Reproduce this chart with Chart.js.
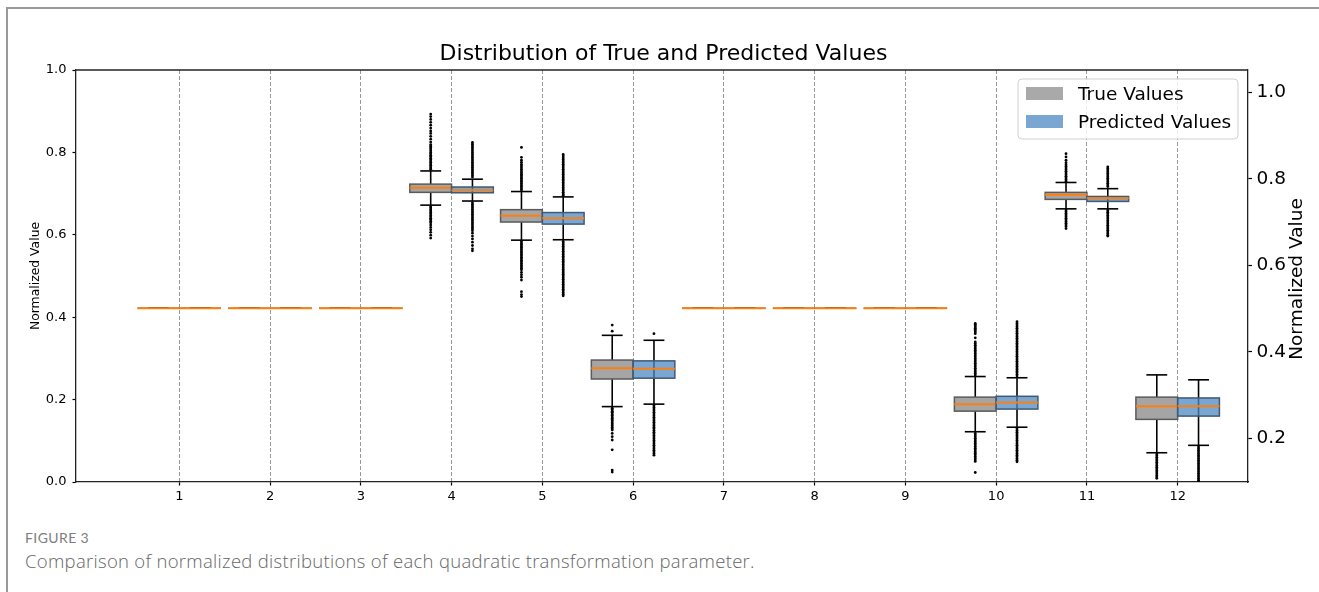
<!DOCTYPE html>
<html>
<head>
<meta charset="utf-8">
<script src="https://cdn.jsdelivr.net/npm/chart.js@4.4.1/dist/chart.umd.min.js"></script>
<style>
  html, body { margin:0; padding:0; background:#fff; width:1319px; height:592px; overflow:hidden; }
  #frame { position:absolute; left:6px; top:7px; width:1400px; height:700px; border-left:2px solid #9a9a9a; border-top:2px solid #9a9a9a; }
  #wrap { position:absolute; left:0; top:0; width:1319px; height:520px; }
  #fig { position:absolute; left:25px; top:529px; font-family:Lato, "Open Sans", sans-serif; font-size:14px; letter-spacing:0.4px; color:#7d7d7d; }
  #cap { position:absolute; left:25px; top:548px; font-family:"Open Sans", Lato, sans-serif; font-size:18.5px; letter-spacing:0.3px; font-weight:300; color:#666; }
</style>
</head>
<body>
<div id="frame"></div>
<div id="wrap"><canvas id="c" width="1319" height="520"></canvas></div>
<div id="fig">FIGURE 3</div>
<div id="cap">Comparison of normalized distributions of each quadratic transformation parameter.</div>
<script>
// ---------------- data ----------------
const CATEGORIES = [1, 2, 3, 4, 5, 6, 7, 8, 9, 10, 11, 12];
const X_TICK_LABELS = ['1', '2', '3', '4', '5', '6', '7', '8', '9', '10', '11', '12'];
const Y_TICKS = [0.0, 0.2, 0.4, 0.6, 0.8, 1.0];
const Y2_TICKS = [0.2, 0.4, 0.6, 0.8, 1.0];
const SERIES = ['True Values', 'Predicted Values'];
const CHART_TITLE = 'Distribution of True and Predicted Values';
const Y_TITLE = 'Normalized Value';

const TRUE_Q1  = [0.422, 0.422, 0.422, 0.703, 0.631, 0.250, 0.422, 0.422, 0.422, 0.172, 0.686, 0.152];
const TRUE_MED = [0.422, 0.422, 0.422, 0.714, 0.646, 0.276, 0.422, 0.422, 0.422, 0.189, 0.697, 0.184];
const TRUE_Q3  = [0.422, 0.422, 0.422, 0.723, 0.661, 0.296, 0.422, 0.422, 0.422, 0.206, 0.703, 0.206];
const TRUE_LO  = [0.422, 0.422, 0.422, 0.672, 0.587, 0.183, 0.422, 0.422, 0.422, 0.122, 0.663, 0.071];
const TRUE_HI  = [0.422, 0.422, 0.422, 0.755, 0.705, 0.356, 0.422, 0.422, 0.422, 0.256, 0.727, 0.260];

const PRED_Q1  = [0.422, 0.422, 0.422, 0.702, 0.626, 0.252, 0.422, 0.422, 0.422, 0.177, 0.681, 0.160];
const PRED_MED = [0.422, 0.422, 0.422, 0.708, 0.640, 0.275, 0.422, 0.422, 0.422, 0.193, 0.689, 0.184];
const PRED_Q3  = [0.422, 0.422, 0.422, 0.716, 0.654, 0.294, 0.422, 0.422, 0.422, 0.208, 0.693, 0.204];
const PRED_LO  = [0.422, 0.422, 0.422, 0.682, 0.588, 0.189, 0.422, 0.422, 0.422, 0.133, 0.663, 0.089];
const PRED_HI  = [0.422, 0.422, 0.422, 0.735, 0.692, 0.344, 0.422, 0.422, 0.422, 0.253, 0.712, 0.248];

const TRUE_FLIERS = [
  [], [], [],
  [0.893, 0.887, 0.880, 0.873, 0.866, 0.859, 0.852, 0.846, 0.839, 0.832, 0.825, 0.819, 0.815, 0.811, 0.808, 0.804, 0.800, 0.797, 0.793, 0.790, 0.786, 0.783, 0.779, 0.776, 0.772, 0.769, 0.765, 0.762, 0.759,
   0.668, 0.665, 0.661, 0.658, 0.654, 0.651, 0.647, 0.644, 0.640, 0.637, 0.633, 0.629, 0.624, 0.618, 0.612, 0.606, 0.599, 0.592],
  [0.812, 0.788, 0.781, 0.776, 0.771, 0.767, 0.763, 0.759, 0.755, 0.751, 0.747, 0.744, 0.740, 0.737, 0.733, 0.730, 0.726, 0.723, 0.719, 0.716, 0.712, 0.709,
   0.584, 0.580, 0.577, 0.573, 0.570, 0.566, 0.563, 0.559, 0.556, 0.552, 0.549, 0.545, 0.542, 0.538, 0.535, 0.531, 0.527, 0.523, 0.519, 0.515, 0.509, 0.503, 0.497, 0.490, 0.462, 0.455, 0.450],
  [0.381, 0.366,
   0.179, 0.176, 0.172, 0.169, 0.165, 0.162, 0.158, 0.155, 0.151, 0.148, 0.144, 0.141, 0.137, 0.133, 0.129, 0.126, 0.118, 0.110, 0.102, 0.078, 0.029, 0.024],
  [], [], [],
  [0.385, 0.382, 0.379, 0.376, 0.373, 0.370, 0.367, 0.364, 0.360, 0.350, 0.340, 0.336, 0.332, 0.328, 0.324, 0.320, 0.316, 0.312, 0.308, 0.304, 0.300, 0.296, 0.292, 0.288, 0.284, 0.280, 0.276, 0.272, 0.268, 0.264, 0.260,
   0.118, 0.114, 0.110, 0.106, 0.102, 0.098, 0.094, 0.090, 0.086, 0.082, 0.078, 0.074, 0.070, 0.066, 0.062, 0.058, 0.054, 0.050, 0.023],
  [0.797, 0.789, 0.781, 0.775, 0.770, 0.766, 0.762, 0.758, 0.754, 0.750, 0.746, 0.742, 0.738, 0.734, 0.730,
   0.660, 0.656, 0.652, 0.648, 0.644, 0.640, 0.636, 0.632, 0.628, 0.624, 0.620, 0.615],
  [0.068, 0.064, 0.060, 0.056, 0.052, 0.048, 0.044, 0.040, 0.036, 0.032, 0.028, 0.024, 0.020, 0.016, 0.012, 0.009]
];

const PRED_FLIERS = [
  [], [], [],
  [0.824, 0.820, 0.816, 0.812, 0.808, 0.804, 0.800, 0.796, 0.792, 0.788, 0.784, 0.780, 0.776, 0.772, 0.768, 0.764, 0.760, 0.756, 0.752, 0.748, 0.744, 0.740,
   0.678, 0.674, 0.670, 0.666, 0.662, 0.658, 0.654, 0.650, 0.646, 0.642, 0.638, 0.634, 0.630, 0.626, 0.622, 0.618, 0.614, 0.610, 0.604, 0.597, 0.590, 0.582, 0.574, 0.566, 0.561],
  [0.795, 0.791, 0.787, 0.783, 0.779, 0.775, 0.771, 0.767, 0.763, 0.759, 0.755, 0.751, 0.747, 0.743, 0.739, 0.735, 0.731, 0.727, 0.723, 0.719, 0.715, 0.711, 0.707, 0.703, 0.699, 0.696,
   0.584, 0.580, 0.576, 0.572, 0.568, 0.564, 0.560, 0.556, 0.552, 0.548, 0.544, 0.540, 0.536, 0.532, 0.528, 0.524, 0.520, 0.516, 0.512, 0.508, 0.504, 0.500, 0.496, 0.492, 0.488, 0.484, 0.480, 0.476, 0.472, 0.468, 0.464, 0.460, 0.456, 0.452],
  [0.360,
   0.185, 0.181, 0.177, 0.173, 0.169, 0.165, 0.161, 0.157, 0.153, 0.149, 0.145, 0.141, 0.137, 0.133, 0.129, 0.125, 0.121, 0.117, 0.113, 0.109, 0.105, 0.101, 0.097, 0.093, 0.089, 0.085, 0.081, 0.077, 0.073, 0.069, 0.065],
  [], [], [],
  [0.389, 0.385, 0.381, 0.377, 0.373, 0.369, 0.365, 0.361, 0.357, 0.353, 0.349, 0.345, 0.341, 0.337, 0.333, 0.329, 0.325, 0.321, 0.317, 0.313, 0.309, 0.305, 0.301, 0.297, 0.293, 0.289, 0.285, 0.281, 0.277, 0.273, 0.269, 0.265, 0.261, 0.257,
   0.129, 0.125, 0.121, 0.117, 0.113, 0.109, 0.105, 0.101, 0.097, 0.093, 0.089, 0.085, 0.081, 0.077, 0.073, 0.069, 0.065, 0.061, 0.057, 0.053, 0.049],
  [0.765, 0.761, 0.757, 0.753, 0.749, 0.745, 0.741, 0.737, 0.733, 0.729, 0.725, 0.721, 0.717,
   0.659, 0.655, 0.651, 0.647, 0.643, 0.639, 0.635, 0.631, 0.627, 0.623, 0.619, 0.615, 0.611, 0.607, 0.603, 0.599, 0.597],
  [0.085, 0.081, 0.077, 0.073, 0.069, 0.065, 0.061, 0.057, 0.053, 0.049, 0.045, 0.041, 0.037, 0.033, 0.029, 0.025, 0.021, 0.017, 0.013, 0.009, 0.005, 0.002]
];

// ---------------- layout / style constants ----------------
const BOX_OFFSET = 0.23;
const BOX_WIDTH = 0.46;
const CAP_WIDTH = 0.23;
const X_MIN = -0.138, X_MAX = 12.775;
const Y2_MIN = 0.099, Y2_MAX = 1.0516;
const STYLES = [
  { fill: '#a5a5a5', edge: '#5a5a5a', legend: '#a9a9a9', throughLine: false },
  { fill: 'rgba(78,136,195,0.75)', edge: '#3f5a74', legend: '#7aa6d2', throughLine: true }
];
const FONT = 'DejaVu Sans';
const SIDE_FONT = 18.5;

function buildBoxes(q1, med, q3, lo, hi, shift) {
  return CATEGORIES.map((c, i) => ({ x: c + shift, q1: q1[i], med: med[i], q3: q3[i], lo: lo[i], hi: hi[i] }));
}
function buildFliers(lists, shift) {
  const pts = [];
  lists.forEach((vals, i) => vals.forEach(v => pts.push({ x: CATEGORIES[i] + shift, y: v })));
  return pts;
}
const BOX_SETS = [
  buildBoxes(TRUE_Q1, TRUE_MED, TRUE_Q3, TRUE_LO, TRUE_HI, -BOX_OFFSET),
  buildBoxes(PRED_Q1, PRED_MED, PRED_Q3, PRED_LO, PRED_HI, BOX_OFFSET)
];

function seg(ctx, x1, y1, x2, y2) { ctx.beginPath(); ctx.moveTo(x1, y1); ctx.lineTo(x2, y2); ctx.stroke(); }

const boxPlugin = {
  id: 'boxplot',
  beforeDatasetsDraw(chart) {
    const { ctx, chartArea: ca, scales: { x, y } } = chart;
    ctx.save();
    ctx.beginPath(); ctx.rect(ca.left, ca.top, ca.right - ca.left, ca.bottom - ca.top); ctx.clip();
    BOX_SETS.forEach((boxes, si) => {
      const st = STYLES[si];
      boxes.forEach(b => {
        const xc = x.getPixelForValue(b.x);
        const xl = x.getPixelForValue(b.x - BOX_WIDTH / 2), xr = x.getPixelForValue(b.x + BOX_WIDTH / 2);
        const cl = x.getPixelForValue(b.x - CAP_WIDTH / 2), cr = x.getPixelForValue(b.x + CAP_WIDTH / 2);
        const yq1 = y.getPixelForValue(b.q1), yq3 = y.getPixelForValue(b.q3), ym = y.getPixelForValue(b.med);
        const ylo = y.getPixelForValue(b.lo), yhi = y.getPixelForValue(b.hi);
        ctx.lineCap = 'butt';
        ctx.strokeStyle = '#000'; ctx.lineWidth = 1.6;
        if (st.throughLine) { seg(ctx, xc, yhi, xc, ylo); }
        else { seg(ctx, xc, yq3, xc, yhi); seg(ctx, xc, yq1, xc, ylo); }
        seg(ctx, cl, yhi, cr, yhi); seg(ctx, cl, ylo, cr, ylo);
        ctx.fillStyle = st.fill;
        ctx.fillRect(xl, yq3, xr - xl, yq1 - yq3);
        ctx.strokeStyle = st.edge; ctx.lineWidth = 1.5;
        ctx.strokeRect(xl, yq3, xr - xl, yq1 - yq3);
        ctx.strokeStyle = '#ff7f0e'; ctx.lineWidth = 2;
        seg(ctx, xl, ym, xr, ym);
      });
    });
    ctx.restore();
  },
  afterDatasetsDraw(chart) {
    const { ctx, chartArea: ca } = chart;
    ctx.save();
    // top spine
    ctx.strokeStyle = '#222'; ctx.lineWidth = 1.3;
    seg(ctx, ca.left, ca.top, ca.right, ca.top);
    // legend
    const lw = 220, lh = 60, lx = ca.right - 10 - lw, ly = ca.top + 9;
    ctx.beginPath();
    if (ctx.roundRect) ctx.roundRect(lx, ly, lw, lh, 4); else ctx.rect(lx, ly, lw, lh);
    ctx.fillStyle = 'rgba(255,255,255,0.8)'; ctx.fill();
    ctx.strokeStyle = '#d0d0d0'; ctx.lineWidth = 1; ctx.stroke();
    ctx.font = SIDE_FONT + 'px "' + FONT + '"';
    ctx.textAlign = 'left'; ctx.textBaseline = 'middle';
    SERIES.forEach((name, i) => {
      const ry = ly + 14.5 + i * 28;
      ctx.fillStyle = STYLES[i].legend;
      ctx.fillRect(lx + 8, ry - 6.5, 37, 13);
      ctx.fillStyle = '#000';
      ctx.fillText(name, lx + 60, ry + 1.5);
    });
    // right axis title (reads bottom-to-top)
    ctx.translate(ca.right + 49, (ca.top + ca.bottom) / 2 + 3);
    ctx.rotate(-Math.PI / 2);
    ctx.textAlign = 'center'; ctx.textBaseline = 'middle';
    ctx.fillStyle = '#000';
    ctx.font = SIDE_FONT + 'px "' + FONT + '"';
    ctx.fillText(Y_TITLE, 0, 0);
    ctx.restore();
  }
};

Chart.defaults.font.family = FONT;
Chart.defaults.color = '#000';

new Chart(document.getElementById('c'), {
  type: 'scatter',
  data: {
    datasets: [
      { label: SERIES[0], data: buildFliers(TRUE_FLIERS, -BOX_OFFSET), pointRadius: 1.4, pointBackgroundColor: '#000', pointBorderWidth: 0, pointHoverRadius: 1.4 },
      { label: SERIES[1], data: buildFliers(PRED_FLIERS, BOX_OFFSET), pointRadius: 1.4, pointBackgroundColor: '#000', pointBorderWidth: 0, pointHoverRadius: 1.4 }
    ]
  },
  options: {
    responsive: false,
    animation: false,
    events: [],
    layout: { padding: { left: 8, right: 0, top: 0, bottom: 0 } },
    plugins: {
      legend: { display: false },
      tooltip: { enabled: false },
      title: {
        display: true, text: CHART_TITLE, color: '#000',
        font: { family: FONT, size: 22, weight: 'normal' },
        padding: { top: 41.4, bottom: 2.2 }
      }
    },
    scales: {
      x: {
        type: 'linear', min: X_MIN, max: X_MAX,
        afterBuildTicks(s) { s.ticks = CATEGORIES.map(v => ({ value: v })); },
        afterFit(s) { s.height = 38; },
        ticks: { callback: (v, i) => X_TICK_LABELS[i], font: { size: 13 }, color: '#000', padding: 3, maxRotation: 0, autoSkip: false },
        grid: { color: '#9a9a9a', lineWidth: 1, tickColor: '#000', tickLength: 3.5, tickWidth: 1.2, tickBorderDash: [] },
        border: { display: true, color: '#222', width: 1.3, dash: [4, 2] }
      },
      y: {
        type: 'linear', position: 'left', min: 0, max: 1,
        afterBuildTicks(s) { s.ticks = Y_TICKS.map(v => ({ value: v })); },
        afterFit(s) { s.width = 68; },
        ticks: { callback: v => v.toFixed(1), font: { size: 13 }, color: '#000', padding: 6 },
        grid: { drawOnChartArea: false, drawTicks: true, tickLength: 3.5, tickColor: '#000', tickWidth: 1.2 },
        border: { display: true, color: '#222', width: 1.3 },
        title: { display: true, text: Y_TITLE, font: { size: 12.4 }, color: '#000', padding: { top: 20, bottom: 0 } }
      },
      y2: {
        type: 'linear', position: 'right', min: Y2_MIN, max: Y2_MAX,
        afterBuildTicks(s) { s.ticks = Y2_TICKS.map(v => ({ value: v })); },
        afterFit(s) { s.width = 71; },
        ticks: { callback: v => v.toFixed(1), font: { size: SIDE_FONT }, color: '#000', padding: 4.5 },
        grid: { drawOnChartArea: false, drawTicks: true, tickLength: 4, tickColor: '#000', tickWidth: 1.2 },
        border: { display: true, color: '#222', width: 1.3 }
      }
    }
  },
  plugins: [boxPlugin]
});
</script>
</body>
</html>
